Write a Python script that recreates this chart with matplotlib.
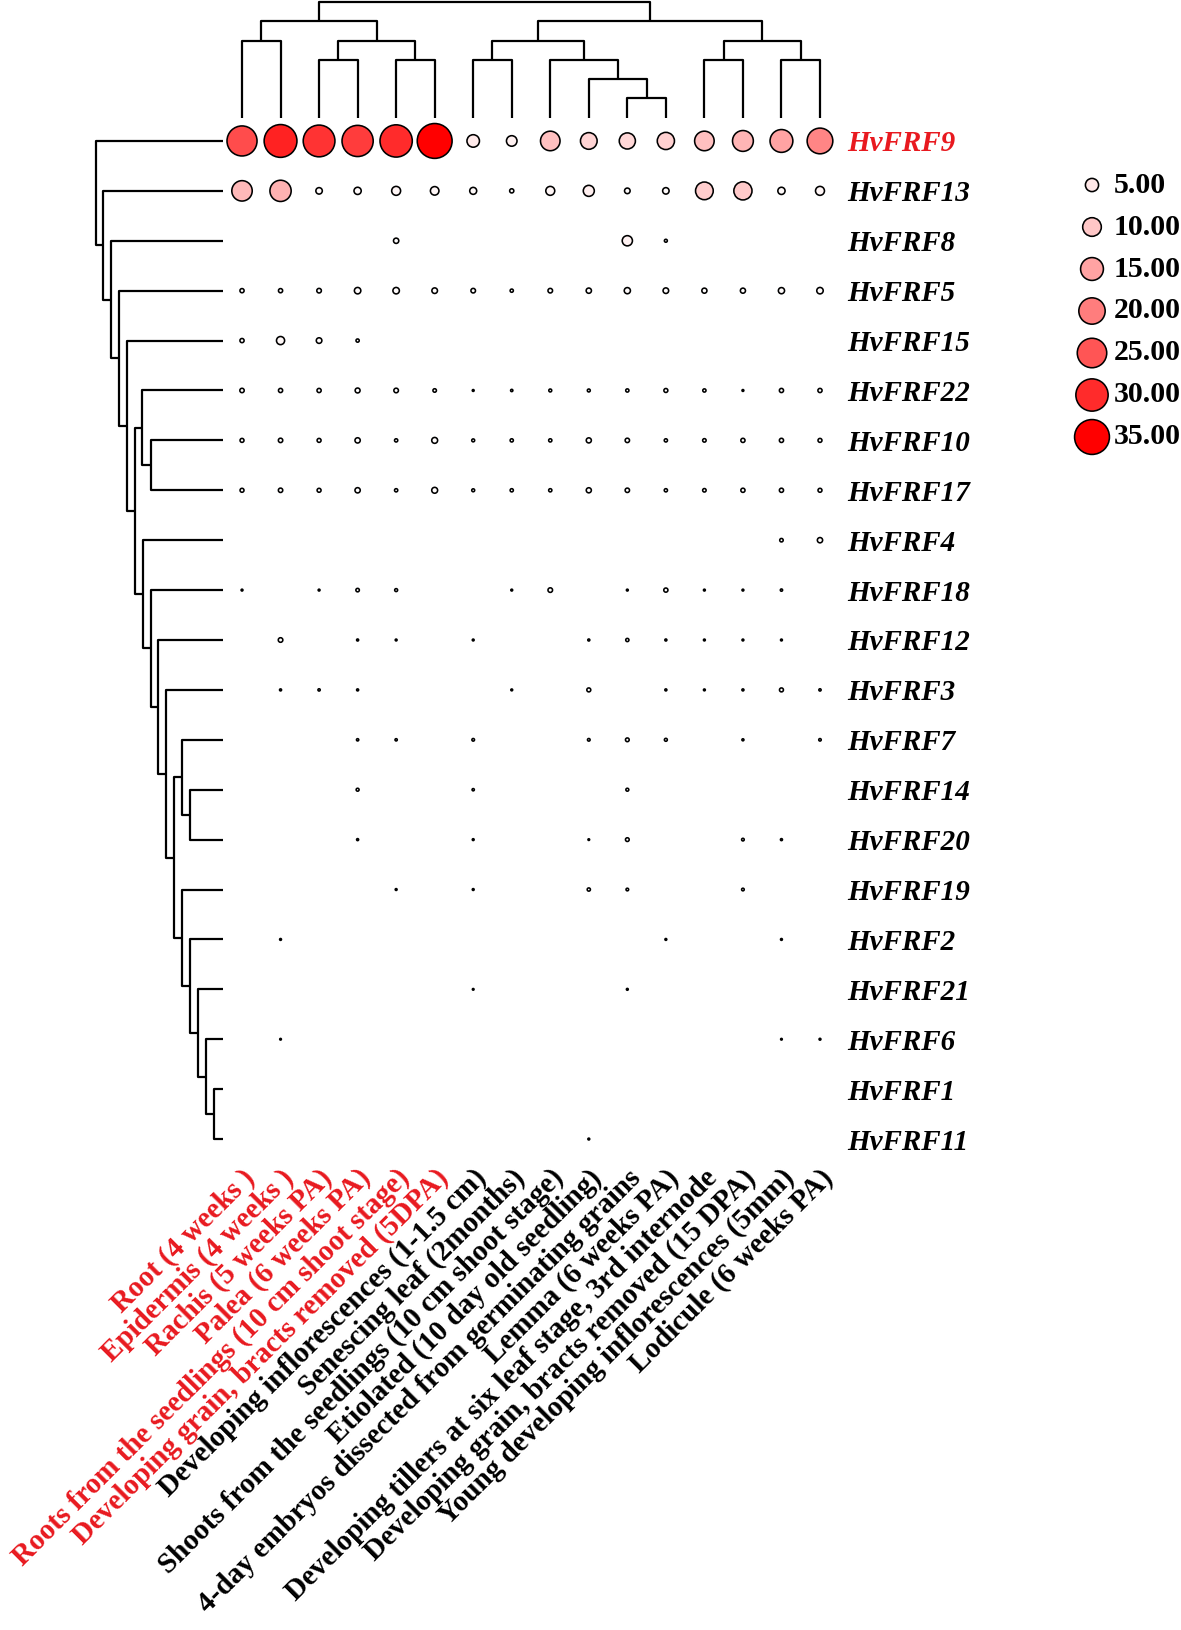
import numpy as np
import matplotlib
matplotlib.use("Agg")
import matplotlib.pyplot as plt
from matplotlib.colors import LinearSegmentedColormap, PowerNorm
import matplotlib.transforms as mtransforms

plt.rcParams['font.family'] = ['Liberation Serif', 'DejaVu Serif']

genes = ["HvFRF9", "HvFRF13", "HvFRF8", "HvFRF5", "HvFRF15", "HvFRF22", "HvFRF10",
         "HvFRF17", "HvFRF4", "HvFRF18", "HvFRF12", "HvFRF3", "HvFRF7", "HvFRF14",
         "HvFRF20", "HvFRF19", "HvFRF2", "HvFRF21", "HvFRF6", "HvFRF1", "HvFRF11"]

tissues = ["Root (4 weeks )",
           "Epidermis (4 weeks )",
           "Rachis (5 weeks PA)",
           "Palea (6 weeks PA)",
           "Roots from the seedlings (10 cm shoot stage)",
           "Developing grain, bracts removed (5DPA)",
           "Developing inflorescences (1-1.5 cm)",
           "Senescing leaf (2months)",
           "Shoots from the seedlings (10 cm shoot stage)",
           "Etiolated (10 day old seedling)",
           "4-day embryos dissected from germinating grains",
           "Lemma (6 weeks PA)",
           "Developing tillers at six leaf stage, 3rd internode",
           "Developing grain, bracts removed (15 DPA)",
           "Young developing inflorescences (5mm)",
           "Lodicule (6 weeks PA)"]
n_red = 6

# expression values (0 = not shown)
expr = np.array([
    [26, 31, 29, 28, 30, 35, 4.5, 3.2, 11, 8, 7.5, 8.5, 11, 12.5, 15, 19],
    [12, 13, 1.2, 1.5, 2.3, 2.1, 1.4, 0.5, 2.3, 3.5, 0.9, 1.2, 9, 9.5, 1.5, 2.3],
    [0, 0, 0, 0, 0.8, 0, 0, 0, 0, 0, 3.0, 0.25, 0, 0, 0, 0],
    [0.5, 0.5, 0.6, 1.2, 1.2, 0.9, 0.6, 0.3, 0.6, 0.8, 1.1, 0.9, 0.75, 0.75, 1.1, 1.2],
    [0.5, 1.9, 0.9, 0.3, 0, 0, 0, 0, 0, 0, 0, 0, 0, 0, 0, 0],
    [0.55, 0.5, 0.5, 0.7, 0.6, 0.35, 0.1, 0.15, 0.25, 0.25, 0.3, 0.45, 0.3, 0.1, 0.5, 0.5],
    [0.45, 0.55, 0.45, 0.8, 0.3, 1.0, 0.25, 0.3, 0.3, 0.75, 0.55, 0.3, 0.35, 0.5, 0.5, 0.45],
    [0.45, 0.55, 0.45, 0.8, 0.3, 1.0, 0.25, 0.3, 0.3, 0.75, 0.55, 0.3, 0.35, 0.5, 0.5, 0.45],
    [0, 0, 0, 0, 0, 0, 0, 0, 0, 0, 0, 0, 0, 0, 0.35, 0.8],
    [0.1, 0, 0.1, 0.35, 0.25, 0, 0, 0.1, 0.6, 0, 0.1, 0.5, 0.1, 0.1, 0.15, 0],
    [0, 0.6, 0, 0.12, 0.1, 0, 0.1, 0, 0, 0.12, 0.3, 0.12, 0.1, 0.1, 0.1, 0],
    [0, 0.12, 0.15, 0.12, 0, 0, 0, 0.1, 0, 0.45, 0, 0.12, 0.1, 0.12, 0.45, 0.15],
    [0, 0, 0, 0.15, 0.15, 0, 0.2, 0, 0, 0.2, 0.4, 0.25, 0, 0.12, 0, 0.18],
    [0, 0, 0, 0.25, 0, 0, 0.15, 0, 0, 0, 0.25, 0, 0, 0, 0, 0],
    [0, 0, 0, 0.12, 0, 0, 0.1, 0, 0, 0.08, 0.4, 0, 0, 0.2, 0.12, 0],
    [0, 0, 0, 0, 0.1, 0, 0.1, 0, 0, 0.3, 0.2, 0, 0, 0.2, 0, 0],
    [0, 0.1, 0, 0, 0, 0, 0, 0, 0, 0, 0, 0.1, 0, 0, 0.1, 0],
    [0, 0, 0, 0, 0, 0, 0.08, 0, 0, 0, 0.1, 0, 0, 0, 0, 0],
    [0, 0.08, 0, 0, 0, 0, 0, 0, 0, 0, 0, 0, 0, 0, 0.08, 0.1],
    [0, 0, 0, 0, 0, 0, 0, 0, 0, 0, 0, 0, 0, 0, 0, 0],
    [0, 0, 0, 0, 0, 0, 0, 0, 0, 0.1, 0, 0, 0, 0, 0, 0],
])

legend_values = [5, 10, 15, 20, 25, 30, 35]

# dendrograms: (height, left, right), ints are leaves
row_tree = (127, 0, (120, 1, (112, 2, (104, 3, (96, 4,
            (88, (81, 5, (72, 6, 7)),
                 (80, 8, (72, 9, (65, 10, (57, 11,
                  (49, (41, 12, (33, 13, 14)),
                       (41, 15, (33, 16, (25, 17, (17, 18, (9, 19, 20))))))))))))))))
col_tree = (6, (5, (4, 0, 1), (4, (3, 2, 3), (3, 4, 5))),
            (5, (4, (3, 6, 7), (3, 8, (2, 9, (1, 10, 11)))),
                (4, (3, 12, 13), (3, 14, 15))))

cmap = LinearSegmentedColormap.from_list("wr", ["#ffffff", "#ff0000"])
norm = PowerNorm(gamma=1.2, vmin=0, vmax=35)
size_k = 18.0

W, H = 1181, 1630
fig = plt.figure(figsize=(W / 100, H / 100), dpi=100)


def draw_tree(ax, node, horizontal):
    if isinstance(node, int):
        return node, 0
    h, a, b = node
    pa, ha = draw_tree(ax, a, horizontal)
    pb, hb = draw_tree(ax, b, horizontal)
    xs = [pa, pa, pb, pb]
    ys = [ha, h, h, hb]
    if horizontal:
        ax.plot(ys, xs, color="black", lw=1.6, clip_on=False, solid_capstyle="butt")
    else:
        ax.plot(xs, ys, color="black", lw=1.6, clip_on=False, solid_capstyle="butt")
    return (pa + pb) / 2, h


# main dot plot
ax = fig.add_axes([222.75 / W, (H - 1164) / H, 616.5 / W, 1048 / H])
rows, cols = np.nonzero(expr)
vals = expr[rows, cols]
ax.scatter(cols, rows, s=vals * size_k, c=vals, cmap=cmap, norm=norm,
           edgecolors="black", linewidths=1.15, zorder=3)
ax.set_xlim(-0.5, 15.5)
ax.set_ylim(20.5, -0.5)
for sp in ax.spines.values():
    sp.set_visible(False)

ax.set_yticks(range(len(genes)))
ax.set_yticklabels(genes, fontsize=21, fontweight="bold", fontstyle="italic")
ax.yaxis.tick_right()
ax.tick_params(axis="y", length=0, pad=6)
ax.get_yticklabels()[0].set_color("#e8191f")

ax.set_xticks(range(len(tissues)))
ax.set_xticklabels(tissues, fontsize=21, fontweight="bold", rotation=45,
                   ha="right", va="center", rotation_mode="anchor")
ax.tick_params(axis="x", length=0, pad=7)
shift = mtransforms.ScaledTranslation(9 / 100, 0, fig.dpi_scale_trans)
for i, lab in enumerate(ax.get_xticklabels()):
    lab.set_transform(lab.get_transform() + shift)
    if i < n_red:
        lab.set_color("#e8191f")

# row dendrogram
ax_l = fig.add_axes([90 / W, (H - 1164) / H, 133 / W, 1048 / H])
draw_tree(ax_l, row_tree, True)
ax_l.set_xlim(133, 0)
ax_l.set_ylim(20.5, -0.5)
ax_l.axis("off")

# column dendrogram
ax_t = fig.add_axes([222.75 / W, (H - 117.5) / H, 616.5 / W, 117.5 / H])
draw_tree(ax_t, col_tree, False)
ax_t.set_xlim(-0.5, 15.5)
ax_t.set_ylim(0, 117.5 / 19.25)
ax_t.axis("off")

# size legend
ax_g = fig.add_axes([1070 / W, (H - 458) / H, 111 / W, 294 / H])
lv = np.array(legend_values, dtype=float)
ly = np.arange(len(lv))
ax_g.scatter(np.full(len(lv), 22), ly, s=lv * size_k, c=lv, cmap=cmap, norm=norm,
             edgecolors="black", linewidths=1.15, clip_on=False)
for y, v in zip(ly, lv):
    ax_g.text(44, y, f"{v:.2f}", fontsize=21.5, fontweight="bold", va="center", ha="left")
ax_g.set_xlim(0, 111)
ax_g.set_ylim(6.5, -0.5)
ax_g.axis("off")

fig.savefig("out.png", dpi=100)
